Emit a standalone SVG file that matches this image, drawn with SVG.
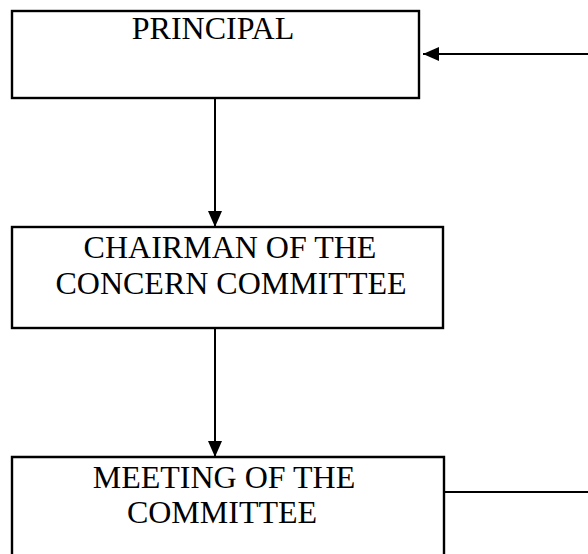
<svg xmlns="http://www.w3.org/2000/svg" width="588" height="554" viewBox="0 0 588 554">
<style>
.box{fill:#fff;stroke:#000;stroke-width:2.4}
.lbl{font-family:"Liberation Serif","Times New Roman",serif;font-size:32px;fill:#000;text-anchor:middle}
.conn{stroke:#000;stroke-width:2;fill:none}
</style>
<defs>
<marker id="ah" viewBox="0 0 16 14" refX="16" refY="7" markerWidth="16" markerHeight="14" markerUnits="userSpaceOnUse" orient="auto">
<path d="M0,0 L16,7 L0,14 Z" fill="#000"/>
</marker>
</defs>
<rect width="588" height="554" fill="#fff"/>
<g id="principal">
<rect class="box" x="12" y="11" width="407" height="87"/>
<text class="lbl" x="213" y="39">PRINCIPAL</text>
</g>
<g id="chairman">
<rect class="box" x="12" y="227" width="431" height="101"/>
<text class="lbl" x="230" y="258">CHAIRMAN OF THE</text>
<text class="lbl" x="231" y="294">CONCERN COMMITTEE</text>
</g>
<g id="meeting">
<path class="box" d="M12,560 V457 H444 V560"/>
<text class="lbl" x="224" y="488">MEETING OF THE</text>
<text class="lbl" x="222" y="523">COMMITTEE</text>
</g>
<g id="connectors">
<line class="conn" x1="588" y1="54" x2="423" y2="54" marker-end="url(#ah)"/>
<line class="conn" x1="215" y1="98" x2="215" y2="227" marker-end="url(#ah)"/>
<line class="conn" x1="215" y1="328" x2="215" y2="457" marker-end="url(#ah)"/>
<line class="conn" x1="444" y1="492" x2="588" y2="492" stroke-width="1.6"/>
</g>
</svg>
